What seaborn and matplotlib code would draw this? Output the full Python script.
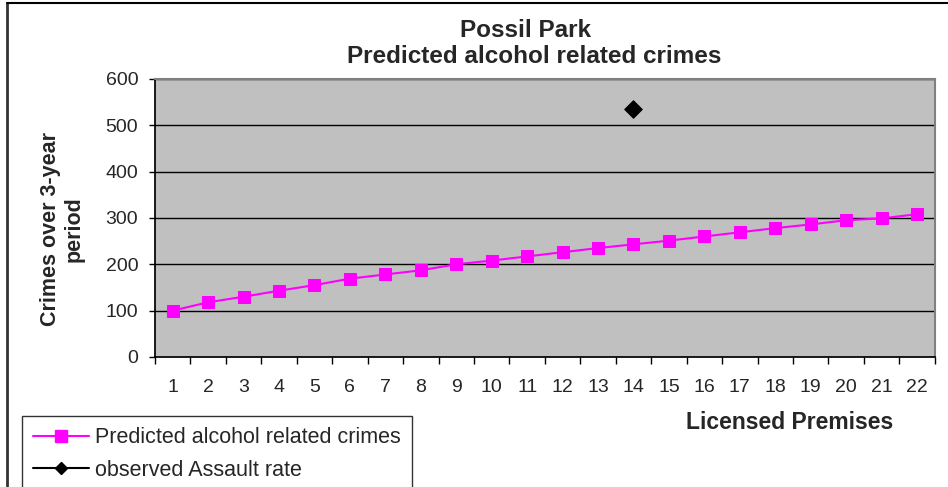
import numpy as np
import pandas as pd
import matplotlib
matplotlib.use("Agg")
import matplotlib.pyplot as plt
import seaborn as sns
from matplotlib.lines import Line2D

premises = list(range(1, 23))
predicted = [100, 118, 130, 143, 155, 169, 178, 187, 200, 208, 217,
             226, 235, 243, 251, 260, 269, 278, 286, 295, 299, 308]
observed_x = [14]
observed_y = [535]

sns.set_theme(style="white")
plt.rcParams['font.family'] = ['Liberation Sans', 'DejaVu Sans']

df = pd.DataFrame({'premises': premises, 'predicted': predicted})
obs = pd.DataFrame({'premises': observed_x, 'observed': observed_y})

fig = plt.figure(figsize=(9.48, 4.87), dpi=100)
ax = fig.add_axes([0.1635, 0.267, 0.8225, 0.571])
ax.set_facecolor('#C0C0C0')

sns.lineplot(data=df, x='premises', y='predicted', ax=ax, color='#FF00FF',
             marker='s', markersize=8.5, markeredgecolor='#FF00FF', linewidth=1.5)
sns.scatterplot(data=obs, x='premises', y='observed', ax=ax, color='black',
                marker='D', s=80, edgecolor='black', zorder=5)

ax.set_xlim(0.5, 22.5)
ax.set_ylim(0, 600)
ax.set_yticks(range(0, 601, 100))
ax.set_xticks(premises)
ax.set_xticks(np.arange(0.5, 23, 1), minor=True)
ax.tick_params(axis='x', which='major', length=0, labelsize=14, pad=16)
ax.tick_params(axis='x', which='minor', length=5, width=1, color='black', direction='out', bottom=True)
ax.tick_params(axis='y', length=4, width=1, color='black', direction='out', left=True,
               labelsize=14, pad=8)
for y in range(100, 601, 100):
    ax.axhline(y, color='black', linewidth=1, zorder=1)

ax.spines['left'].set_color('black')
ax.spines['bottom'].set_color('black')
ax.spines['top'].set_color('#808080')
ax.spines['right'].set_color('#808080')
ax.spines['top'].set_linewidth(1.5)
ax.spines['right'].set_linewidth(1.5)

ax.set_xlabel('')
ax.set_ylabel('')
fig.text(0.554, 0.937, 'Possil Park', ha='center', va='center',
         fontsize=17.5, fontweight='bold')
fig.text(0.563, 0.883, 'Predicted alcohol related crimes', ha='center', va='center',
         fontsize=17.5, fontweight='bold')
fig.text(0.833, 0.133, 'Licensed Premises', ha='center', va='center', fontsize=16.5,
         fontweight='bold')
fig.text(0.066, 0.53, 'Crimes over 3-year\nperiod', ha='center', va='center', rotation=90,
         fontsize=15.5, fontweight='bold', linespacing=1.15)

handles = [
    Line2D([0], [0], color='#FF00FF', marker='s', markersize=8, linewidth=1.5),
    Line2D([0], [0], color='black', marker='D', markersize=6.5, linewidth=1.5),
]
leg = fig.legend(handles, ['Predicted alcohol related crimes', 'observed Assault rate'],
                 loc='upper left', bbox_to_anchor=(0.023, 0.145), fontsize=15.5,
                 frameon=True, fancybox=False, edgecolor='black', handlelength=2.6,
                 handletextpad=0.3, borderpad=0.5, labelspacing=0.55, borderaxespad=0)
leg.get_frame().set_linewidth(1)

fig.add_artist(Line2D([0.007, 0.007], [0, 0.993], transform=fig.transFigure,
                      color='#333333', linewidth=2))
fig.add_artist(Line2D([0.007, 1], [0.993, 0.993], transform=fig.transFigure,
                      color='black', linewidth=1.5))

fig.savefig('out.png', dpi=100)
